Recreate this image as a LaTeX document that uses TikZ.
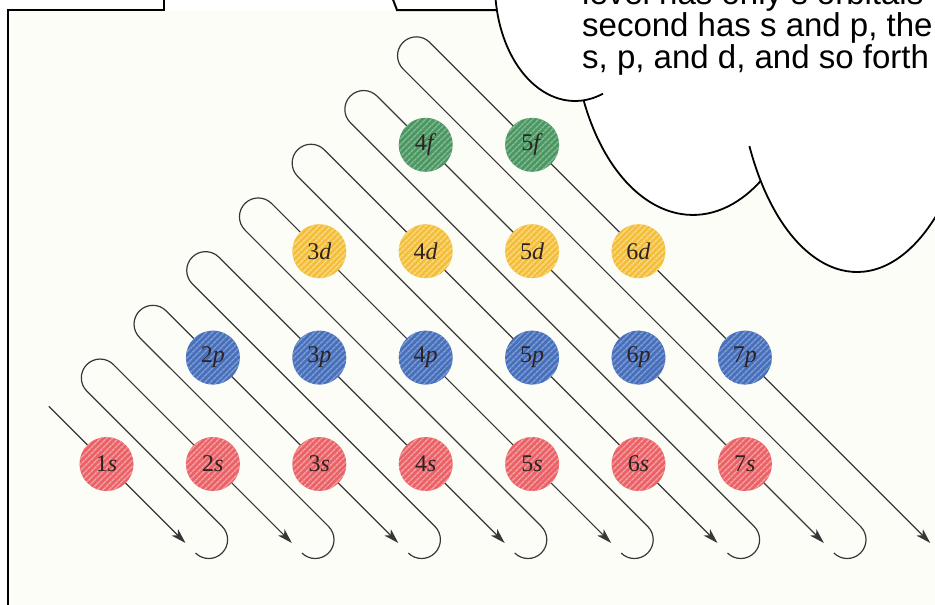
\documentclass[tikz,border=0pt]{standalone}
\usepackage{fontspec}
\setmainfont{Liberation Serif}
\newfontfamily\calloutfont{Liberation Sans}
\usetikzlibrary{arrows.meta,patterns.meta}
\definecolor{cream}{RGB}{253,253,248}
\definecolor{sbase}{RGB}{234,98,104}
\definecolor{sstripe}{RGB}{247,165,165}
\definecolor{pbase}{RGB}{72,112,186}
\definecolor{pstripe}{RGB}{130,160,215}
\definecolor{dbase}{RGB}{244,190,60}
\definecolor{dstripe}{RGB}{250,222,135}
\definecolor{fbase}{RGB}{76,150,100}
\definecolor{fstripe}{RGB}{135,190,150}
\definecolor{linegray}{RGB}{55,55,55}
\definecolor{labelcol}{RGB}{45,35,35}
\begin{document}
\begin{tikzpicture}[x=1pt,y=-1pt,
  orb/.style={circle, minimum size=54pt, inner sep=0pt, text=labelcol,
    font=\fontsize{24}{24}\selectfont},
  sorb/.style={orb, preaction={fill=sbase}, pattern={Lines[angle=45,distance=4pt,line width=1.4pt]}, pattern color=sstripe},
  porb/.style={orb, preaction={fill=pbase}, pattern={Lines[angle=45,distance=4pt,line width=1.4pt]}, pattern color=pstripe},
  dorb/.style={orb, preaction={fill=dbase}, pattern={Lines[angle=45,distance=4pt,line width=1.4pt]}, pattern color=dstripe},
  forb/.style={orb, preaction={fill=fbase}, pattern={Lines[angle=45,distance=4pt,line width=1.4pt]}, pattern color=fstripe},
  diag/.style={draw=linegray, line width=1.2pt},
  arr/.style={diag, -{Stealth[length=15pt,width=9pt,inset=4pt]}},
  boxline/.style={draw=black, line width=2pt},
  cloudline/.style={draw=black, line width=1.8pt},
  calltext/.style={anchor=base west, inner sep=0pt, align=left,
    font=\calloutfont\fontsize{33}{27}\selectfont}
]
\useasboundingbox (0,0) rectangle (935,605);
\clip (0,0) rectangle (935,605);
\fill[cream] (9,11) rectangle (935,605);

% frames of the slide boxes
\draw[boxline] (8,607) -- (8,10) -- (164,10) -- (164,-3);
\draw[boxline] (392,-3) -- (397,10) -- (500,10);

% cloud callout
\fill[white] (495,-15) arc[start angle=180,end angle=83.8,x radius=80,y radius=116]
  arc[start angle=155.7,end angle=55.72,x radius=120,y radius=195]
  arc[start angle=143.45,end angle=0,x radius=120,y radius=226]
  -- (990,46) -- (990,-30) -- (495,-30) -- cycle;
\draw[cloudline] (495,-15) arc[start angle=180,end angle=69.5,x radius=80,y radius=116];
\draw[cloudline] (583.6,100.2) arc[start angle=155.7,end angle=55.72,x radius=120,y radius=195];
\draw[cloudline] (749.4,146.1) arc[start angle=153.7,end angle=0,x radius=120,y radius=226];

% the last line's baseline is the node's base
\node[calltext] (call) at (582,68) {level has only s orbitals\\second has s and p, the\\s, p, and d, and so forth};

% diagonal guide paths
\coordinate (start1) at (48.75,406.25);
\coordinate (tip1) at ({-357.5+543},543);
\draw[arr] (start1) -- (tip1);
\foreach \D in {2,...,8}{
  \pgfmathsetmacro{\cD}{-357.5+106.4*(\D-1)}
  \pgfmathsetmacro{\cP}{\cD-106.4}
  \pgfmathsetmacro{\S}{478-1.0*(\D-2)}
  \coordinate (hook\D) at ({\cP+553},553);
  \coordinate (top\D) at ({(\S+\cD)/2-26.6},{(\S-\cD)/2+26.6});
  \coordinate (tip\D) at ({\cD+543},543);
  \draw[arr] (hook\D) arc[start angle=135,end angle=-45,radius=18.81]
    -- (top\D) arc[start angle=135,end angle=315,radius=18.81] -- (tip\D);
}

% orbitals
\foreach \n in {1,...,7}
  \node[sorb] (s\n) at ({106.5+106.4*(\n-1)},464) {\n\textit{s}};
\foreach \n in {2,...,7}
  \node[porb] (p\n) at ({106.5+106.4*(\n-1)},357.6) {\n\textit{p}};
\foreach \n in {3,...,6}
  \node[dorb] (d\n) at ({106.5+106.4*(\n-1)},251.2) {\n\textit{d}};
\foreach \n in {4,5}
  \node[forb] (f\n) at ({106.5+106.4*(\n-1)},144.8) {\n\textit{f}};
\end{tikzpicture}
\end{document}
